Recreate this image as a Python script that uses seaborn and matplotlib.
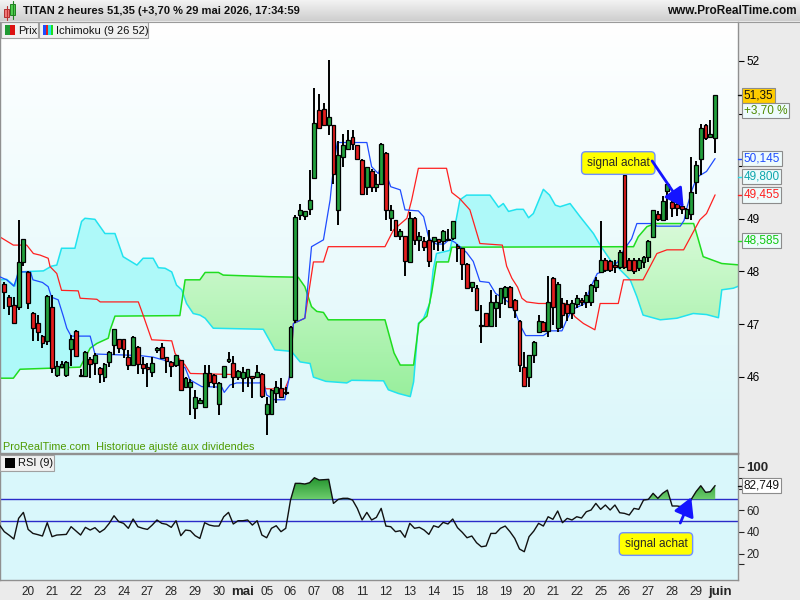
import numpy as np
import pandas as pd
import matplotlib
matplotlib.use("Agg")
import matplotlib.pyplot as plt
import matplotlib.transforms as mtransforms
from matplotlib.colors import LinearSegmentedColormap
from matplotlib.patches import Rectangle
from matplotlib.path import Path
import seaborn as sns

sns.set_style("white")
plt.rcParams['font.family'] = ['Liberation Sans', 'DejaVu Sans']

# ---- candles (2h bars, 17 avr -> 29 mai) ----
opens = [47.77, 47.51, 47.36, 47.33, 48.18, 47.98, 47.20, 47.01, 46.77, 46.68,
         47.33, 46.03, 46.19, 46.03, 46.52, 46.87, 46.04, 46.01, 46.33, 46.25,
         46.16, 46.00, 46.27, 46.60, 46.71, 46.71, 46.38, 46.22, 46.57, 46.24,
         46.18, 46.09, 46.50, 46.57, 46.37, 46.28, 46.22, 46.31, 45.81, 45.80,
         45.40, 45.50, 45.42, 46.06, 46.03, 45.48, 46.00, 46.30, 46.26, 46.00,
         45.97, 46.00, 46.01, 46.00, 46.05, 45.29, 45.29, 45.68, 45.78, 45.71,
         46.00, 47.08, 49.07, 49.05, 49.18, 49.77, 51.07, 51.08, 50.78, 50.78,
         49.17, 50.18, 50.32, 50.56, 50.40, 50.12, 49.61, 49.90, 49.60, 49.67,
         50.26, 49.01, 48.98, 48.67, 48.67, 48.17, 49.02, 48.60, 48.58, 48.60,
         48.57, 48.62, 48.57, 48.60, 48.63, 48.49, 48.44, 48.15, 47.70, 47.68,
         46.99, 47.20, 46.96, 47.30, 47.39, 47.52, 47.71, 47.46, 47.06, 46.18,
         45.99, 46.41, 46.85, 47.04, 46.87, 47.87, 46.92, 47.39, 47.38, 47.20,
         47.38, 47.46, 47.41, 47.41, 47.71, 47.99, 48.22, 48.19, 48.12, 48.09,
         49.83, 48.22, 48.22, 48.06, 48.18, 48.28, 48.66, 49.10, 48.98, 49.52,
         49.31, 49.28, 49.24, 49.01, 49.10, 49.70, 50.13, 50.78, 50.56, 50.53]
highs = [47.80, 47.55, 47.51, 48.98, 48.61, 48.00, 47.22, 47.17, 46.80, 47.56,
         47.55, 46.30, 46.30, 46.29, 46.79, 46.88, 46.14, 46.48, 46.38, 46.44,
         46.18, 46.25, 46.48, 46.91, 46.72, 46.72, 46.50, 46.77, 46.58, 46.38,
         46.25, 46.38, 46.57, 46.63, 46.38, 46.29, 46.42, 46.32, 46.00, 45.95,
         45.75, 45.60, 46.22, 46.22, 46.05, 45.90, 46.21, 46.47, 46.39, 46.12,
         46.19, 46.15, 46.02, 46.22, 46.06, 45.62, 45.76, 45.92, 45.97, 45.80,
         46.96, 49.07, 49.29, 49.15, 49.93, 51.48, 51.38, 51.20, 52.02, 50.79,
         50.47, 50.62, 50.69, 50.69, 50.41, 50.13, 49.98, 49.95, 49.85, 50.45,
         50.27, 49.26, 48.98, 48.80, 48.68, 49.12, 49.03, 48.75, 48.66, 48.79,
         48.66, 48.62, 48.79, 48.80, 48.95, 48.52, 48.45, 48.16, 47.80, 47.75,
         47.36, 47.21, 47.65, 47.55, 47.69, 47.72, 47.72, 47.47, 47.07, 46.46,
         46.42, 46.67, 47.17, 47.05, 47.91, 47.90, 47.80, 47.50, 47.45, 47.45,
         47.55, 47.50, 47.60, 47.76, 47.90, 48.95, 48.25, 48.22, 48.22, 48.40,
         49.83, 48.25, 48.25, 48.25, 48.30, 48.60, 49.17, 49.15, 49.43, 49.67,
         49.48, 49.45, 49.27, 49.20, 50.18, 50.09, 50.81, 50.80, 50.88, 51.35]
lows = [47.28, 47.17, 47.00, 47.27, 48.10, 47.28, 46.68, 46.68, 46.54, 46.60,
        46.06, 45.99, 46.16, 46.00, 46.20, 46.39, 46.00, 45.99, 45.97, 46.03,
        45.87, 45.90, 46.19, 46.41, 46.44, 46.35, 46.13, 46.20, 46.05, 46.05,
        45.81, 45.99, 46.45, 46.33, 46.06, 46.00, 46.19, 45.72, 45.78, 45.27,
        45.19, 45.47, 45.40, 45.81, 45.78, 45.27, 45.98, 46.25, 45.78, 45.93,
        45.71, 45.81, 45.59, 45.98, 45.60, 44.89, 45.28, 45.49, 45.59, 45.66,
        45.97, 47.01, 48.98, 48.98, 49.07, 49.77, 50.73, 50.78, 50.59, 49.67,
        48.88, 49.99, 50.32, 50.30, 50.13, 49.47, 49.45, 49.50, 49.50, 49.65,
        48.98, 48.76, 48.65, 48.60, 47.91, 48.17, 48.50, 48.38, 48.38, 48.09,
        48.41, 48.38, 48.38, 48.57, 48.60, 48.18, 47.84, 47.68, 47.60, 47.25,
        46.63, 46.95, 46.95, 46.95, 47.11, 47.36, 47.30, 47.11, 46.09, 45.80,
        45.81, 46.26, 46.84, 46.85, 46.76, 46.98, 46.85, 46.92, 47.05, 47.10,
        47.30, 47.35, 47.30, 47.35, 47.60, 47.97, 47.99, 47.98, 47.97, 48.05,
        48.05, 48.00, 47.95, 48.00, 48.06, 48.18, 48.64, 48.95, 48.96, 48.98,
        49.04, 49.05, 49.10, 49.00, 48.97, 49.48, 49.83, 50.50, 50.54, 50.26]
closes = [47.61, 47.35, 47.02, 48.18, 48.61, 47.39, 46.92, 46.85, 46.63, 47.54,
          46.16, 46.20, 46.24, 46.27, 46.71, 46.39, 46.01, 46.47, 46.24, 46.41,
          46.05, 46.24, 46.47, 46.90, 46.54, 46.52, 46.22, 46.76, 46.24, 46.16,
          46.14, 46.25, 46.54, 46.35, 46.30, 46.20, 46.41, 45.74, 45.97, 45.90,
          45.62, 45.55, 46.06, 45.90, 45.87, 45.88, 46.20, 46.33, 46.00, 46.11,
          46.09, 46.14, 45.97, 46.09, 45.63, 45.48, 45.75, 45.80, 45.62, 45.68,
          46.95, 49.04, 49.17, 49.14, 49.36, 50.82, 50.73, 50.78, 50.93, 49.85,
          50.21, 50.40, 50.50, 50.42, 50.13, 49.47, 49.98, 49.60, 49.67, 50.42,
          49.17, 49.17, 48.67, 48.77, 48.19, 49.02, 48.60, 48.67, 48.47, 48.19,
          48.65, 48.55, 48.77, 48.62, 48.95, 48.44, 48.15, 47.68, 47.79, 47.27,
          46.97, 46.96, 47.42, 47.42, 47.68, 47.71, 47.33, 47.27, 46.22, 45.82,
          46.41, 46.66, 47.06, 46.87, 47.42, 47.33, 47.77, 47.17, 47.20, 47.40,
          47.49, 47.41, 47.55, 47.74, 47.84, 48.22, 48.03, 48.03, 48.09, 48.37,
          48.09, 48.03, 48.01, 48.22, 48.28, 48.57, 49.17, 48.99, 49.33, 49.67,
          49.20, 49.20, 49.18, 49.18, 49.50, 50.02, 50.72, 50.53, 50.62, 51.35]

# ---- Ichimoku (9 26 52) lines, vertices as (bar, price) ----
tenkan_bar = [-1, 0.5, 2, 3, 5.5, 6, 8, 9.2, 9.9, 11.3, 12.4, 13.1, 14, 18, 19, 28.4, 31.2, 34, 36, 37.9,
              38.9, 41.4, 45.6, 46.1, 47.3, 48.7, 53.6, 54.1, 55, 56.7, 58.8, 59.9, 60.6, 63, 64.4, 66.9,
              68.3, 69, 69.8, 76, 77, 78.4, 79.1, 80.5, 81, 83, 84, 86.8, 87.9, 88.9, 89.6, 90.6, 92.2,
              93.3, 94.5, 95.5, 96.9, 98.3, 99.7, 101.6, 103, 104.6, 106, 107.2, 108.3, 109.3, 113, 114.4,
              116.9, 117.9, 119, 121.7, 122.8, 124.3, 125, 127, 128.6, 129.8, 131.5, 132.6, 135.8, 136.8,
              141.7, 142.5, 143.2, 144.2, 145.2, 147.2, 149]
tenkan_val = [47.90, 47.84, 47.72, 47.99, 47.99, 47.84, 47.79, 47.71, 47.51, 47.46, 47.14, 46.92, 46.77,
              46.77, 46.43, 46.40, 46.37, 46.30, 46.24, 46.17, 45.94, 45.81, 45.80, 45.70, 45.84, 45.88,
              45.88, 45.97, 45.65, 45.56, 45.56, 46.06, 47.01, 47.11, 48.47, 48.60, 49.36, 49.99, 50.45,
              50.45, 49.99, 49.86, 50.05, 49.74, 49.61, 49.55, 49.17, 49.15, 49.04, 48.66, 48.57, 48.52,
              48.52, 48.61, 48.55, 48.47, 48.36, 48.19, 47.81, 47.79, 47.58, 47.49, 47.39, 47.20, 46.95,
              46.78, 46.78, 46.87, 46.87, 47.08, 47.27, 47.39, 47.68, 47.96, 47.98, 48.06, 48.18, 48.40,
              48.62, 48.91, 48.91, 48.86, 48.86, 48.97, 49.25, 49.56, 49.79, 49.90, 50.145]
kijun_bar = [-1, 1.9, 4.7, 6.1, 7.5, 9.2, 9.6, 11, 12, 15.5, 15.9, 19.4, 20.1, 28.1, 29.1, 30.9, 35.1,
             35.8, 36.8, 37.9, 39, 48, 49.4, 54, 54.7, 58.8, 59.9, 60.6, 63, 64.8, 66.9, 67.9, 79.8,
             81.6, 84.4, 85.4, 86.8, 92.7, 93.8, 95.5, 97.6, 99.7, 104.4, 105.3, 106.4, 107.6, 108.5,
             109.5, 112, 117.9, 119.6, 121.4, 123.8, 124.9, 128.7, 129.8, 133.9, 136.8, 138.9, 142.4,
             145.8, 147.2, 149]
kijun_val = [48.66, 48.50, 48.50, 48.34, 48.31, 48.25, 48.09, 47.96, 47.64, 47.63, 47.49, 47.47, 47.42,
             47.42, 47.17, 46.70, 46.68, 46.44, 46.32, 46.22, 46.06, 46.04, 45.99, 45.99, 45.77, 45.76,
             46.00, 47.01, 47.11, 48.18, 48.18, 48.47, 48.47, 48.79, 49.01, 49.36, 49.96, 49.96, 49.50,
             49.38, 49.17, 48.53, 48.50, 48.10, 47.87, 47.70, 47.49, 47.42, 47.39, 47.39, 47.14, 47.01,
             46.89, 47.39, 47.39, 47.84, 47.84, 48.34, 48.41, 48.41, 48.98, 49.10, 49.455]
span_a_bar = [-1, 1.9, 3.3, 15.9, 18, 19.4, 21.8, 22.2, 23.2, 36.8, 37.9, 41, 42.1, 44.9, 45.9, 55.5,
              61.6, 63, 64.4, 65.5, 66.9, 67.9, 79.8, 81.7, 83, 85.8, 86.9, 88.6, 89.6, 90.6, 93.1, 93.8,
              131.9, 132.9, 134.7, 136.4, 144.5, 145.5, 146.5, 148.3, 150.4, 154.5]
span_a_val = [45.97, 45.97, 46.14, 46.18, 46.54, 46.63, 46.73, 46.89, 47.15, 47.16, 47.84, 47.84, 47.98,
              47.98, 47.93, 47.90, 47.89, 47.71, 47.33, 47.24, 47.22, 47.08, 47.08, 46.45, 46.22, 46.22,
              47.01, 47.15, 47.60, 48.18, 48.18, 48.46, 48.47, 48.66, 48.85, 48.91, 48.91, 48.60, 48.28,
              48.22, 48.15, 48.12]
span_b_bar = [-1, 0.5, 2.2, 2.9, 8.2, 9.9, 11, 12, 14.8, 16.2, 16.9, 19, 21.1, 23.2, 24.9, 27.8, 29.1,
              31.2, 32.3, 33.7, 35.1, 36.1, 37.2, 38.2, 39.6, 41, 42.1, 43.8, 54.3, 56.7, 60.2, 62, 64.1,
              64.8, 67.4, 71.8, 72.8, 79.5, 80.5, 82.6, 85.1, 85.8, 86.8, 87.9, 89.2, 89.9, 90.6, 93.4,
              94.5, 95.5, 96.9, 101.8, 103.6, 104.6, 105.7, 107.4, 108.8, 109.9, 110.9, 113, 114.3, 115.5,
              116.5, 118.6, 120.7, 123.5, 124.9, 127, 129.1, 131.2, 132.6, 133.9, 137.5, 141, 144.4,
              147.2, 149.7, 150.4, 152.8, 154.5]
span_b_val = [47.84, 47.85, 47.72, 47.99, 48.01, 48.10, 48.12, 48.44, 48.44, 48.95, 49.01, 48.99, 48.72,
              48.72, 48.28, 48.12, 48.25, 48.25, 48.07, 48.06, 47.99, 47.74, 47.65, 47.39, 47.20, 47.17,
              47.11, 46.92, 46.90, 46.51, 46.48, 46.28, 46.25, 45.99, 45.91, 45.88, 45.93, 45.92, 45.75,
              45.68, 45.62, 45.90, 47.01, 47.11, 47.40, 48.03, 48.34, 48.40, 48.88, 49.36, 49.45, 49.45,
              49.22, 49.29, 49.14, 49.18, 49.18, 49.02, 49.10, 49.56, 49.45, 49.26, 49.23, 49.29, 49.04,
              48.72, 48.50, 48.22, 48.03, 47.84, 47.52, 47.17, 47.08, 47.11, 47.20, 47.18, 47.12, 47.65,
              47.68, 47.74]

# ---- RSI (9), from bar -1 to bar 149 ----
rsi_vals = [46.3, 40.2, 37.0, 33.4, 52.5, 58.0, 42.3, 38.6, 37.5, 36.2,
            48.5, 35.6, 37.1, 37.4, 37.7, 44.8, 41.0, 37.1, 44.2, 41.7,
            43.9, 39.6, 42.5, 47.9, 54.9, 49.4, 47.9, 43.3, 51.9, 44.8,
            43.3, 42.3, 46.3, 51.0, 47.9, 47.0, 44.2, 50.3, 36.5, 41.7,
            41.1, 36.5, 34.0, 48.5, 46.3, 45.4, 45.4, 54.0, 58.0, 47.3,
            50.3, 50.3, 51.0, 46.3, 50.3, 37.1, 34.6, 43.3, 45.7, 40.2,
            43.3, 69.4, 84.8, 84.8, 84.2, 85.4, 90.0, 87.9, 88.2, 88.5,
            66.3, 70.0, 71.0, 71.0, 69.4, 61.7, 51.0, 58.0, 51.0, 53.4,
            61.7, 45.4, 44.8, 40.2, 41.1, 35.0, 47.9, 43.3, 44.2, 41.7,
            37.7, 45.7, 44.2, 48.8, 47.3, 51.9, 43.9, 39.6, 34.6, 36.2,
            30.0, 26.3, 27.0, 38.6, 38.6, 43.3, 45.4, 40.2, 34.0, 24.2,
            21.7, 35.6, 40.8, 47.9, 45.4, 54.0, 51.6, 59.3, 48.5, 52.5,
            51.0, 54.0, 52.8, 58.6, 60.2, 66.3, 60.8, 64.8, 60.2, 64.8,
            57.7, 57.1, 55.6, 61.7, 60.8, 69.4, 70.0, 75.6, 71.0, 75.6,
            78.6, 63.9, 63.9, 63.3, 62.6, 70.0, 77.1, 82.6, 76.5, 77.1,
            82.749]

day_labels = ["20", "21", "22", "23", "24", "27", "28", "29", "30", "mai",
              "05", "06", "07", "08", "11", "12", "13", "14", "15", "18",
              "19", "20", "21", "22", "25", "26", "27", "28", "29", "juin"]
bars_per_day = 5

W, H = 800, 600


def rect(x0, y0, x1, y1):
    return [x0 / W, 1 - y1 / H, (x1 - x0) / W, (y1 - y0) / H]


fig = plt.figure(figsize=(8, 6), dpi=100)
fig.patch.set_facecolor('#ebebeb')

ax = fig.add_axes(rect(0, 22, 738, 453))
ax_rsi = fig.add_axes(rect(0, 454, 738, 580))
xlim = (-0.90, 153.8)

# price panel background
bg = LinearSegmentedColormap.from_list('bg', ['#ffffff', '#dbf7fa'])
ax.imshow(np.linspace(0, 1, 256).reshape(-1, 1), cmap=bg, aspect='auto',
          extent=[0, 1, 0, 1], transform=ax.transAxes, zorder=0)

# cloud
grid = np.union1d(span_a_bar, span_b_bar)
sa = np.interp(grid, span_a_bar, span_a_val)
sb = np.interp(grid, span_b_bar, span_b_val)
ax.fill_between(grid, sa, sb, where=sb >= sa, interpolate=True, color='#aef9f9', lw=0, zorder=1)
green_cloud = ax.fill_between(grid, sa, sb, where=sa >= sb, interpolate=True, color='#b4f5b4', lw=0, zorder=1)
gcm = LinearSegmentedColormap.from_list('gc', ['#dcfbdc', '#98ef9c'])
gimg = ax.imshow(np.linspace(0, 1, 256).reshape(-1, 1), cmap=gcm, aspect='auto',
                 extent=[-1, 156, 45.6, 49.1], zorder=1.1)
gimg.set_clip_path(Path.make_compound_path(*green_cloud.get_paths()), ax.transData)

sns.lineplot(x=span_b_bar, y=span_b_val, ax=ax, color='#22e3ef', lw=1.1, zorder=2)
sns.lineplot(x=span_a_bar, y=span_a_val, ax=ax, color='#20dd20', lw=1.1, zorder=2)
sns.lineplot(x=kijun_bar, y=kijun_val, ax=ax, color='#ff2020', lw=0.9, zorder=2.5)
sns.lineplot(x=tenkan_bar, y=tenkan_val, ax=ax, color='#1f4cff', lw=0.9, zorder=2.6)

# candles
df = pd.DataFrame({'o': opens, 'h': highs, 'l': lows, 'c': closes})
df['i'] = np.arange(len(df))
up = df['c'] >= df['o']
ax.vlines(df['i'], df['l'], df['h'], color='black', lw=1.4, zorder=3)
ax.bar(df['i'], np.maximum((df['c'] - df['o']).abs(), 0.02), bottom=df[['o', 'c']].min(axis=1),
       width=0.8, color=np.where(up, '#22a03c', '#e41e1e'), edgecolor='black', lw=0.9, zorder=4)

# annotation in price panel
ax.text(128.7, 50.06, 'signal achat', fontsize=8.5, ha='center', va='center', zorder=7,
        bbox=dict(boxstyle='round,pad=0.45,rounding_size=0.35', fc='#ffff00', ec='#6f8fff', lw=1))
ax.annotate('', xy=(142.4, 49.22), xytext=(135.8, 50.10), zorder=7,
            arrowprops=dict(arrowstyle='-|>,head_length=0.8,head_width=0.45', color='#1414ff',
                            lw=2, mutation_scale=14, shrinkA=0, shrinkB=0))

ax.set_xlim(*xlim)
ax.set_ylim(44.548, 52.741)
ax.set_xticks([])
ax.yaxis.tick_right()
# labels for 50 and 51 sit under the value boxes in the original
ax.set_yticks(range(46, 53), labels=['46', '47', '48', '49', '', '', '52'])
ax.tick_params(axis='y', direction='out', length=4, width=0.8, pad=2, labelsize=8.5, colors='black')
ax.set_xlabel('')
ax.set_ylabel('')
for s in ['left', 'right', 'bottom']:
    ax.spines[s].set_color('#909090')
    ax.spines[s].set_linewidth(1)
ax.spines['top'].set_visible(False)

# RSI panel
ax_rsi.set_facecolor('#d9f7fb')
rsi_bar = np.arange(-1, len(rsi_vals) - 1)
rsi_arr = np.array(rsi_vals)
ax_rsi.axhline(70, color='#2a2ac8', lw=1, zorder=1)
ax_rsi.axhline(50, color='#2a2ac8', lw=1, zorder=1)
over = ax_rsi.fill_between(rsi_bar, 70, rsi_arr, where=rsi_arr >= 70, interpolate=True,
                           color='#44b044', lw=0, zorder=1.5)
rcm = LinearSegmentedColormap.from_list('rg', ['#1f8f2a', '#6ccd6c'])
rimg = ax_rsi.imshow(np.linspace(0, 1, 256).reshape(-1, 1), cmap=rcm, aspect='auto',
                     extent=[-1, 156, 70, 91], zorder=1.6)
rimg.set_clip_path(Path.make_compound_path(*over.get_paths()), ax_rsi.transData)
sns.lineplot(x=rsi_bar, y=rsi_vals, ax=ax_rsi, color='#111111', lw=1.0, zorder=3)

ax_rsi.annotate('', xy=(144.0, 72.0), xytext=(141.7, 48.2), zorder=7,
                arrowprops=dict(arrowstyle='-|>,head_length=0.8,head_width=0.45', color='#1414ff',
                                lw=2, mutation_scale=14, shrinkA=0, shrinkB=0))
ax_rsi.text(136.6, 28.8, 'signal achat', fontsize=8.5, ha='center', va='center', zorder=7,
            bbox=dict(boxstyle='round,pad=0.45,rounding_size=0.35', fc='#ffff00', ec='#6f8fff', lw=1))

ax_rsi.set_xlim(*xlim)
ax_rsi.set_ylim(-4.4, 111.9)
ax_rsi.yaxis.tick_right()
# the 80 label is hidden by the RSI value box in the original
ax_rsi.set_yticks([20, 40, 60, 80, 100], labels=['20', '40', '60', '', '100'])
ax_rsi.set_yticks([10, 90], minor=True)
ax_rsi.tick_params(axis='y', which='both', direction='out', length=4, width=0.8, pad=2, labelsize=8.5)
for lbl in ax_rsi.get_yticklabels():
    if lbl.get_text() == '100':
        lbl.set_fontweight('bold')
        lbl.set_fontsize(9.5)
tick_pos = [bars_per_day * (k + 1) for k in range(len(day_labels))]
ax_rsi.set_xticks(tick_pos, labels=day_labels)
ax_rsi.tick_params(axis='x', length=0, pad=4, labelsize=8.5)
for lbl in ax_rsi.get_xticklabels():
    if lbl.get_text() in ('mai', 'juin'):
        lbl.set_fontweight('bold')
        lbl.set_fontsize(9.5)
ax_rsi.set_xlabel('')
ax_rsi.set_ylabel('')
for s in ax_rsi.spines.values():
    s.set_color('#909090')
    s.set_linewidth(1)

# header bar
axh = fig.add_axes(rect(0, 0, 800, 21))
hcm = LinearSegmentedColormap.from_list('h', ['#f3f3f3', '#cecece'])
axh.imshow(np.linspace(0, 1, 64).reshape(-1, 1), cmap=hcm, aspect='auto', extent=[0, 800, 21, 0])
axh.set_xlim(0, 800)
axh.set_ylim(21, 0)
axh.axis('off')
axh.plot([6.5, 6.5], [6, 20], color='#c03030', lw=0.8)
axh.add_patch(Rectangle((4, 9), 5, 8, fc='#f07878', ec='#b03030', lw=0.7))
axh.plot([12.5, 12.5], [1, 19], color='#208020', lw=0.8)
axh.add_patch(Rectangle((10, 4), 5, 11, fc='#4fd04f', ec='#208020', lw=0.7))
axh.text(23, 11.5, 'TITAN 2 heures 51,35 (+3,70 % 29 mai 2026, 17:34:59', fontsize=8,
         fontweight='bold', va='center', ha='left', color='#111111')
axh.text(797, 11.5, 'www.ProRealTime.com', fontsize=8.5, fontweight='bold', va='center',
         ha='right', color='#111111')

# overlay in pixel coordinates
ax_o = fig.add_axes([0, 0, 1, 1], zorder=20)
ax_o.set_xlim(0, W)
ax_o.set_ylim(H, 0)
ax_o.set_autoscale_on(False)
ax_o.axis('off')
ax_o.plot([0, 800], [21.5, 21.5], color='#9a9a9a', lw=0.8)


def tab(x0, x1, y0, y1, label, tx):
    ax_o.add_patch(Rectangle((x0, y0), x1 - x0, y1 - y0, fc='#f0f0f0', ec='#a0a0a0', lw=0.8))
    ax_o.text(tx, (y0 + y1) / 2 + 0.5, label, fontsize=8, va='center', ha='left', color='#111111')


tab(1, 38, 22, 38, 'Prix', 18)
ax_o.add_patch(Rectangle((5, 25), 5, 10, fc='#1f9a33', lw=0))
ax_o.add_patch(Rectangle((10, 25), 5, 10, fc='#dd1111', lw=0))
tab(39, 148, 22, 38, 'Ichimoku (9 26 52)', 56)
for j, c in enumerate(['#1f4cff', '#e02020', '#22e3ef', '#20dd20']):
    ax_o.add_patch(Rectangle((43 + j * 2.5, 25), 2.5, 10, fc=c, lw=0))
tab(0, 54, 455, 471, 'RSI (9)', 18)
ax_o.add_patch(Rectangle((5, 458), 10, 10, fc='#000000', lw=0))

ax_o.text(3, 447.5, 'ProRealTime.com  Historique ajusté aux dividendes', fontsize=7.8,
          color='#4e9a00', va='center', ha='left')


def value_box(axis, val, text, fc, tc, dash):
    tr = mtransforms.blended_transform_factory(ax_o.transData, axis.transData)
    ax_o.plot([738, 743], [val, val], transform=tr, color=dash, lw=1)
    ax_o.text(743.5, val, text, transform=tr, fontsize=8.5, color=tc, va='center', ha='left',
              bbox=dict(boxstyle='square,pad=0.14', fc=fc, ec='#8c8c8c', lw=0.8))


value_box(ax, 50.145, '50,145', '#eefbfc', '#1f4cff', '#1f4cff')
value_box(ax, 49.80, '49,800', '#eefbfc', '#0fa6ad', '#22e3ef')
value_box(ax, 49.455, '49,455', '#eefbfc', '#ff2020', '#ff2020')
value_box(ax, 48.585, '48,585', '#eefbfc', '#10c810', '#20dd20')
value_box(ax, closes[-1], '51,35', '#ffcc00', '#111111', '#111111')
tr_p = mtransforms.blended_transform_factory(ax_o.transData, ax.transData)
ax_o.annotate('+3,70 %', xy=(743.5, closes[-1]), xycoords=tr_p, xytext=(0, -11),
              textcoords='offset points', fontsize=8.5, color='#4e8a00', va='center', ha='left',
              bbox=dict(boxstyle='square,pad=0.14', fc='#eefbfc', ec='#8c8c8c', lw=0.8))
value_box(ax_rsi, rsi_vals[-1], '82,749', '#ffffff', '#111111', '#111111')

fig.savefig('out.png', dpi=100, facecolor=fig.get_facecolor())
